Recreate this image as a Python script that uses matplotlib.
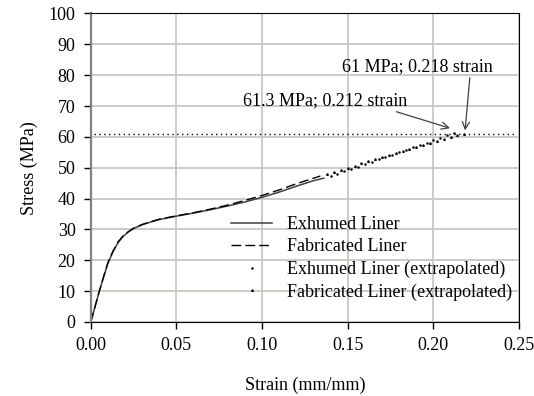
import matplotlib
matplotlib.use("Agg")
import matplotlib.pyplot as plt
from matplotlib.lines import Line2D

plt.rcParams['font.family'] = ['Liberation Serif', 'DejaVu Serif']
plt.rcParams['font.size'] = 13

# measured curves (strain mm/mm, stress MPa)
exhumedStrain = [0.0, 0.002, 0.005, 0.008, 0.010, 0.013, 0.016, 0.019, 0.022, 0.025, 0.030,
                 0.035, 0.040, 0.050, 0.060, 0.070, 0.080, 0.090, 0.100, 0.110, 0.120, 0.130, 0.136]
exhumedStress = [0.0, 4.0, 10.0, 15.5, 19.0, 22.8, 25.8, 27.8, 29.2, 30.3, 31.5,
                 32.4, 33.2, 34.3, 35.3, 36.4, 37.6, 38.9, 40.4, 42.1, 44.0, 45.8, 46.6]

fabricatedStrain = [0.0, 0.002, 0.005, 0.008, 0.010, 0.013, 0.016, 0.019, 0.022, 0.025, 0.030,
                    0.035, 0.040, 0.050, 0.060, 0.070, 0.080, 0.090, 0.100, 0.110, 0.120, 0.130, 0.134]
fabricatedStress = [0.0, 4.0, 10.0, 15.6, 19.2, 23.0, 26.0, 28.0, 29.3, 30.4, 31.6,
                    32.5, 33.3, 34.4, 35.4, 36.6, 37.9, 39.4, 41.0, 42.8, 44.8, 46.6, 47.3]

# extrapolated points
exhumedExtStrain = [0.140, 0.144, 0.148, 0.152, 0.156, 0.160, 0.164, 0.168, 0.172, 0.176,
                    0.180, 0.184, 0.188, 0.192, 0.196, 0.200, 0.204, 0.208, 0.212]
exhumedExtStress = [47.3, 48.0, 48.8, 49.6, 50.3, 51.1, 51.9, 52.7, 53.5, 54.2,
                    55.0, 55.8, 56.6, 57.4, 58.1, 58.9, 59.7, 60.5, 61.3]

fabricatedExtStrain = [0.138, 0.142, 0.146, 0.150, 0.154, 0.158, 0.162, 0.166, 0.170, 0.174,
                       0.178, 0.182, 0.186, 0.190, 0.194, 0.198, 0.202, 0.206, 0.210, 0.214, 0.218]
fabricatedExtStress = [47.9, 48.6, 49.3, 50.0, 50.7, 51.4, 52.1, 52.8, 53.5, 54.1,
                       54.7, 55.4, 56.0, 56.7, 57.3, 58.0, 58.6, 59.3, 59.9, 60.5, 61.0]

# failure stress reference line
limitStrain = [0.002, 0.248]
limitStress = [61.0, 61.0]

xTicks = [0.00, 0.05, 0.10, 0.15, 0.20, 0.25]
yTicks = [0, 10, 20, 30, 40, 50, 60, 70, 80, 90, 100]

fig = plt.figure(figsize=(5.34, 3.96), dpi=100)
ax = fig.add_axes([0.170, 0.187, 0.802, 0.779])

ax.plot(exhumedStrain, exhumedStress, color='#404040', linewidth=1.1)
ax.plot(fabricatedStrain, fabricatedStress, color='black', linewidth=1.0, dashes=(7, 3))
ax.plot(exhumedExtStrain, exhumedExtStress, linestyle='none', marker='.', markersize=1.6, color='black')
ax.plot(fabricatedExtStrain, fabricatedExtStress, linestyle='none', marker='^', markersize=1.2, color='black')
ax.plot(limitStrain, limitStress, color='black', linewidth=1.0, linestyle=(0, (1, 2.5)))

ax.annotate("61 MPa; 0.218 strain", xy=(0.2185, 62.1), xytext=(0.1466, 82.8),
            va='center', ha='left',
            arrowprops=dict(arrowstyle='->', color='#404040', lw=0.9, shrinkA=0, shrinkB=0,
                            relpos=(0.85, 0.0)))
ax.annotate("61.3 MPa; 0.212 strain", xy=(0.2097, 62.8), xytext=(0.0888, 71.8),
            va='center', ha='left',
            arrowprops=dict(arrowstyle='->', color='#404040', lw=0.9, shrinkA=0, shrinkB=0,
                            relpos=(0.88, 0.0)))

ax.set_xlim(0, 0.25)
ax.set_ylim(0, 100)
ax.set_xticks(xTicks)
ax.set_xticklabels([f"{t:.2f}" for t in xTicks])
ax.set_yticks(yTicks)
ax.grid(True, color='#c8c8c0', linewidth=1.3)
ax.set_axisbelow(True)
ax.tick_params(direction='out', length=5, width=1, pad=6)

for side in ['top', 'right', 'bottom']:
    ax.spines[side].set_color('black')
ax.spines['left'].set_color('#808080')
ax.spines['left'].set_linewidth(1.6)

ax.set_xlabel("Strain (mm/mm)", labelpad=16)
ax.set_ylabel("Stress (MPa)", labelpad=8)

handles = [
    Line2D([], [], color='#404040', linewidth=1.1),
    Line2D([], [], color='black', linewidth=1.0, dashes=(7, 3)),
    Line2D([], [], linestyle='none', marker='.', markersize=1.6, color='black'),
    Line2D([], [], linestyle='none', marker='^', markersize=1.2, color='black'),
]
labels = ["Exhumed Liner", "Fabricated Liner",
          "Exhumed Liner (extrapolated)", "Fabricated Liner (extrapolated)"]
ax.legend(handles, labels, loc='lower left', bbox_to_anchor=(0.31, 0.045), frameon=False,
          handlelength=2.3, labelspacing=0.3, handletextpad=0.8, borderaxespad=0)

fig.savefig("out.png", dpi=100)
